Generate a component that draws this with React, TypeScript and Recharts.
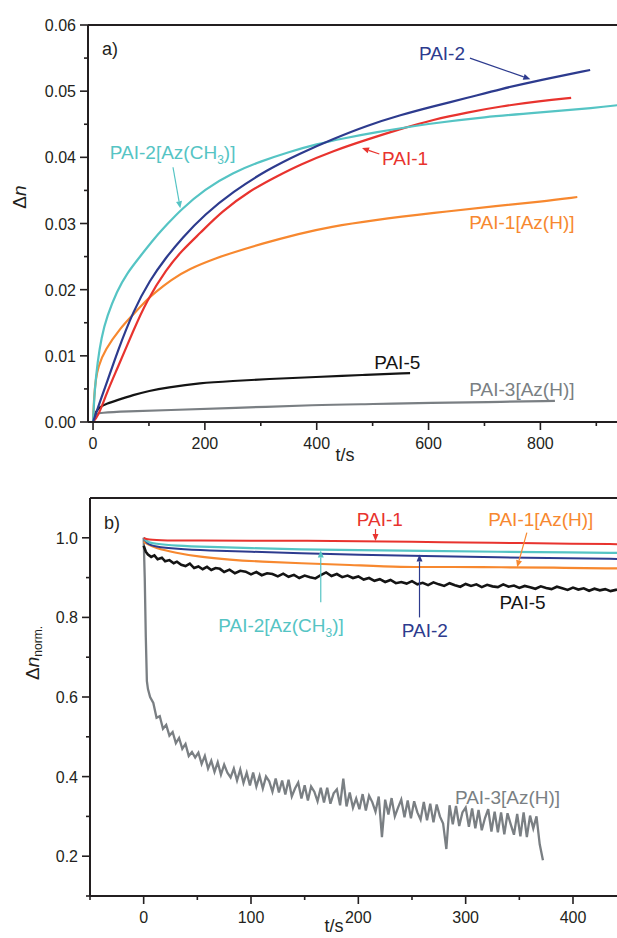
import React from 'react';
import { LineChart, Line, XAxis, YAxis, ReferenceLine, ReferenceDot } from 'recharts';

const FONT = '"Liberation Sans", Arial, Helvetica, sans-serif';
const INK = '#231f20';
const COL = {
  red: '#e8332e',
  blue: '#2d3b8e',
  cyan: '#55c4c4',
  orange: '#f7882f',
  black: '#141414',
  gray: '#7a7f83',
};

// ---- panel a: Δn vs t/s (inscription) ----
const A_CYAN_T = [0, 3, 8, 15, 25, 43, 60, 84, 111, 134, 156, 200, 250, 300, 350, 400, 450, 500, 600, 700, 800, 900, 940];
const A_CYAN_V = [0, 0.005, 0.009, 0.0128, 0.016, 0.0198, 0.0224, 0.025, 0.0279, 0.03, 0.032, 0.0352, 0.0377, 0.0394, 0.0408, 0.042, 0.0429, 0.0437, 0.0451, 0.0461, 0.0468, 0.0475, 0.0479];
const A_BLUE_T = [0, 5, 12, 25, 43, 72, 102, 130, 159, 200, 250, 311, 370, 430, 490, 550, 608, 670, 728, 800, 889];
const A_BLUE_V = [0, 0.0012, 0.003, 0.006, 0.0105, 0.0168, 0.0215, 0.0248, 0.0278, 0.0314, 0.0348, 0.0381, 0.0406, 0.0428, 0.0448, 0.0464, 0.0477, 0.049, 0.0503, 0.0517, 0.0532];
const A_RED_T = [0, 5, 12, 25, 43, 72, 95, 132, 160, 191, 230, 281, 330, 370, 430, 490, 550, 608, 670, 728, 800, 855];
const A_RED_V = [0, 0.0005, 0.0015, 0.0045, 0.008, 0.0138, 0.0182, 0.0232, 0.026, 0.0285, 0.0318, 0.035, 0.0372, 0.0389, 0.041, 0.0427, 0.0443, 0.0457, 0.0468, 0.0477, 0.0485, 0.049];
const A_ORANGE_T = [0, 2, 5, 9, 21, 50, 68, 95, 111, 140, 170, 224, 250, 300, 370, 424, 500, 608, 728, 800, 866];
const A_ORANGE_V = [0, 0.004, 0.0065, 0.0083, 0.0109, 0.0143, 0.0159, 0.0184, 0.0196, 0.0215, 0.0231, 0.0249, 0.0256, 0.0269, 0.0285, 0.0295, 0.0305, 0.0316, 0.0327, 0.0333, 0.034];
const A_BLACK_T = [0, 2, 5, 12, 25, 43, 72, 100, 132, 191, 250, 311, 400, 480, 567];
const A_BLACK_V = [0, 0.001, 0.0015, 0.0023, 0.0028, 0.0033, 0.0041, 0.0047, 0.0052, 0.0059, 0.0062, 0.0065, 0.0068, 0.0071, 0.0074];
const A_GRAY_T = [0, 2, 5, 12, 60, 132, 250, 400, 500, 608, 700, 826];
const A_GRAY_V = [0, 0.0008, 0.0012, 0.0014, 0.0016, 0.0018, 0.0021, 0.0026, 0.0027, 0.0029, 0.003, 0.0032];

// ---- panel b: Δn_norm. vs t/s (stability) ----
const B_RED_T = [0, 3, 20, 50, 100, 150, 200, 250, 300, 350, 400, 441];
const B_RED_V = [1.0, 0.995, 0.993, 0.994, 0.992, 0.993, 0.991, 0.99, 0.988, 0.987, 0.985, 0.984];
const B_CYAN_T = [0, 3, 10, 30, 60, 100, 145, 200, 260, 330, 400, 441];
const B_CYAN_V = [1.0, 0.99, 0.985, 0.98, 0.977, 0.974, 0.971, 0.969, 0.967, 0.965, 0.963, 0.962];
const B_BLUE_T = [0, 3, 10, 30, 60, 100, 145, 200, 260, 330, 400, 441];
const B_BLUE_V = [1.0, 0.985, 0.978, 0.972, 0.968, 0.965, 0.961, 0.957, 0.954, 0.951, 0.948, 0.947];
const B_ORANGE_T = [0, 3, 10, 30, 52, 80, 110, 145, 192, 239, 290, 332, 380, 441];
const B_ORANGE_V = [0.99, 0.985, 0.975, 0.962, 0.952, 0.945, 0.94, 0.936, 0.932, 0.926, 0.927, 0.926, 0.925, 0.923];
const B_BLACK_T = [0, 2, 4, 7, 10, 13, 17, 20, 24, 28, 31, 35, 39, 43, 47, 51, 55, 59, 63, 67, 71, 75, 80, 85, 90, 95, 100, 105, 110, 115, 120, 125, 130, 135, 140, 145, 150, 155, 160, 165, 170, 175, 180, 185, 190, 195, 200, 205, 210, 215, 220, 225, 230, 235, 240, 245, 250, 255, 260, 265, 270, 275, 280, 285, 290, 295, 300, 305, 310, 315, 320, 325, 330, 335, 340, 345, 350, 355, 360, 365, 370, 375, 380, 385, 390, 395, 400, 405, 410, 415, 420, 425, 430, 435, 441];
const B_BLACK_V = [0.98, 0.965, 0.958, 0.952, 0.956, 0.946, 0.95, 0.941, 0.944, 0.936, 0.94, 0.932, 0.929, 0.935, 0.924, 0.928, 0.921, 0.927, 0.919, 0.924, 0.922, 0.914, 0.92, 0.911, 0.917, 0.915, 0.908, 0.914, 0.906, 0.911, 0.909, 0.903, 0.91, 0.902, 0.907, 0.899, 0.905, 0.901, 0.898, 0.906, 0.913, 0.904, 0.909, 0.901, 0.905, 0.899, 0.903, 0.895, 0.899, 0.892, 0.896, 0.889, 0.894, 0.886, 0.889, 0.885, 0.891, 0.883, 0.887, 0.881, 0.888, 0.883, 0.879, 0.886, 0.881, 0.877, 0.884, 0.879, 0.883, 0.876, 0.882, 0.878, 0.876, 0.883, 0.877, 0.88, 0.874, 0.879, 0.876, 0.872, 0.878, 0.874, 0.871, 0.877, 0.873, 0.869, 0.875, 0.87, 0.873, 0.867, 0.872, 0.868, 0.871, 0.866, 0.87];
const B_GRAY_T = [0, 1, 2, 3, 4, 6, 9, 12, 15, 18, 21, 24, 27, 30, 33, 36, 39, 42, 45, 48, 51, 54, 57, 60, 63, 66, 69, 72, 75, 78, 81, 84, 87, 90, 93, 96, 99, 102, 105, 108, 111, 114, 117, 120, 123, 126, 129, 132, 135, 138, 141, 144, 147, 150, 153, 156, 159, 162, 165, 168, 171, 174, 177, 180, 183, 186, 189, 192, 195, 198, 201, 204, 207, 210, 213, 216, 219, 222, 225, 228, 231, 234, 237, 240, 243, 246, 249, 252, 255, 258, 261, 264, 267, 270, 273, 276, 279, 282, 285, 288, 291, 294, 297, 300, 303, 306, 309, 312, 315, 318, 321, 324, 327, 330, 333, 336, 339, 342, 345, 348, 351, 354, 357, 360, 363, 366, 369, 372, 374];
const B_GRAY_V = [1.0, 0.9, 0.75, 0.64, 0.62, 0.6, 0.585, 0.548, 0.552, 0.52, 0.53, 0.503, 0.512, 0.484, 0.497, 0.47, 0.482, 0.452, 0.462, 0.448, 0.46, 0.432, 0.452, 0.42, 0.44, 0.412, 0.436, 0.405, 0.43, 0.41, 0.398, 0.42, 0.39, 0.418, 0.384, 0.41, 0.378, 0.41, 0.375, 0.402, 0.37, 0.4, 0.388, 0.362, 0.395, 0.36, 0.39, 0.355, 0.392, 0.35, 0.37, 0.385, 0.345, 0.378, 0.34, 0.375, 0.362, 0.338, 0.372, 0.335, 0.372, 0.332, 0.358, 0.368, 0.328, 0.395, 0.325, 0.36, 0.322, 0.345, 0.318, 0.356, 0.315, 0.352, 0.336, 0.312, 0.35, 0.248, 0.342, 0.305, 0.346, 0.3, 0.322, 0.342, 0.298, 0.34, 0.295, 0.338, 0.31, 0.292, 0.336, 0.29, 0.332, 0.285, 0.33, 0.3, 0.282, 0.218, 0.328, 0.28, 0.326, 0.276, 0.31, 0.322, 0.274, 0.32, 0.27, 0.316, 0.265, 0.296, 0.318, 0.262, 0.312, 0.26, 0.31, 0.255, 0.308, 0.28, 0.254, 0.306, 0.25, 0.31, 0.248, 0.302, 0.27, 0.3, 0.23, 0.19];

// ---- axis ticks ----
const A_X_TICKS = [0, 100, 200, 300, 400, 500, 600, 700, 800, 900];
const A_X_MAJOR = [0, 200, 400, 600, 800];
const A_Y_TICKS = [0, 0.005, 0.01, 0.015, 0.02, 0.025, 0.03, 0.035, 0.04, 0.045, 0.05, 0.055, 0.06];
const A_Y_MAJOR = [0, 0.01, 0.02, 0.03, 0.04, 0.05, 0.06];
const B_X_TICKS = [-50, 0, 50, 100, 150, 200, 250, 300, 350, 400];
const B_X_MAJOR = [0, 100, 200, 300, 400];
const B_Y_TICKS = [0.1, 0.2, 0.3, 0.4, 0.5, 0.6, 0.7, 0.8, 0.9, 1.0];
const B_Y_MAJOR = [0.2, 0.4, 0.6, 0.8, 1.0];

const rows = (t: number[], v: number[]) => t.map((x, i) => ({ t: x, v: v[i] }));
const isMajor = (list: number[], v: number) => list.some((m) => Math.abs(m - v) < 1e-9);

const xTick = (majors: number[]) => (props: any) => {
  const { x, y, payload } = props;
  const major = isMajor(majors, payload.value);
  return (
    <g>
      <line x1={x} y1={y} x2={x} y2={y + (major ? 8 : 4)} stroke={INK} strokeWidth={1.6} />
      {major && (
        <text x={x} y={y + 27} textAnchor="middle" fontSize={16} fill={INK} fontFamily={FONT}>
          {payload.value}
        </text>
      )}
    </g>
  );
};

const yTick = (majors: number[], digits: number) => (props: any) => {
  const { x, y, payload } = props;
  const major = isMajor(majors, payload.value);
  return (
    <g>
      <line x1={x - (major ? 8 : 4)} y1={y} x2={x} y2={y} stroke={INK} strokeWidth={1.6} />
      {major && (
        <text x={x - 12} y={y + 6} textAnchor="end" fontSize={16} fill={INK} fontFamily={FONT}>
          {payload.value.toFixed(digits)}
        </text>
      )}
    </g>
  );
};

function Arrow(p: any) {
  const { x1, y1, x2, y2, color } = p;
  const dx = x2 - x1;
  const dy = y2 - y1;
  const len = Math.hypot(dx, dy) || 1;
  const ux = dx / len;
  const uy = dy / len;
  const head = 7;
  const w = 3;
  const bx = x2 - ux * head;
  const by = y2 - uy * head;
  return (
    <g>
      <line x1={x1} y1={y1} x2={bx} y2={by} stroke={color} strokeWidth={1.2} />
      <polygon points={`${x2},${y2} ${bx - uy * w},${by + ux * w} ${bx + uy * w},${by - ux * w}`} fill={color} />
    </g>
  );
}

const arrow = (key: string, t1: number, v1: number, t2: number, v2: number, color: string) => (
  <ReferenceLine
    key={key}
    segment={[{ x: t1, y: v1 }, { x: t2, y: v2 }]}
    ifOverflow="visible"
    shape={(p: any) => <Arrow {...p} color={color} />}
  />
);

const anno = (key: string, t: number, v: number, color: string, body: React.ReactNode, anchor = 'middle', size = 19) => (
  <ReferenceDot
    key={key}
    x={t}
    y={v}
    r={0}
    ifOverflow="visible"
    shape={(p: any) => (
      <text x={p.cx} y={p.cy + size * 0.36} textAnchor={anchor} fontSize={size} fill={color} fontFamily={FONT}>
        {body}
      </text>
    )}
  />
);

const ch3 = (head: string) => (
  <>
    {head}
    <tspan fontSize={12} dy={5}>3</tspan>
    <tspan dy={-5}>)]</tspan>
  </>
);

const XTitle = ({ x, y }: { x: number; y: number }) => () => (
  <text x={x} y={y} textAnchor="middle" fontSize={18} fill={INK} fontFamily={FONT}>
    t/s
  </text>
);

const YTitle = ({ x, y, sub }: { x: number; y: number; sub?: string }) => () => (
  <text
    x={x}
    y={y}
    transform={`rotate(-90, ${x}, ${y})`}
    textAnchor="middle"
    dominantBaseline="central"
    fontSize={19}
    fill={INK}
    fontFamily={FONT}
  >
    Δ<tspan fontStyle="italic">n</tspan>
    {sub && (
      <tspan fontSize={12} dy={6}>
        {sub}
      </tspan>
    )}
  </text>
);

const axisLine = { stroke: INK, strokeWidth: 2 };

export default function App() {
  const seriesA = [
    { t: A_GRAY_T, v: A_GRAY_V, c: COL.gray },
    { t: A_BLACK_T, v: A_BLACK_V, c: COL.black },
    { t: A_ORANGE_T, v: A_ORANGE_V, c: COL.orange },
    { t: A_RED_T, v: A_RED_V, c: COL.red },
    { t: A_CYAN_T, v: A_CYAN_V, c: COL.cyan },
    { t: A_BLUE_T, v: A_BLUE_V, c: COL.blue },
  ];
  const seriesB = [
    { t: B_GRAY_T, v: B_GRAY_V, c: COL.gray, w: 2.3, type: 'linear' },
    { t: B_BLACK_T, v: B_BLACK_V, c: COL.black, w: 2.6, type: 'linear' },
    { t: B_ORANGE_T, v: B_ORANGE_V, c: COL.orange, w: 2.2, type: 'basis' },
    { t: B_BLUE_T, v: B_BLUE_V, c: COL.blue, w: 2, type: 'basis' },
    { t: B_CYAN_T, v: B_CYAN_V, c: COL.cyan, w: 2.2, type: 'basis' },
    { t: B_RED_T, v: B_RED_V, c: COL.red, w: 2, type: 'basis' },
  ];

  return (
    <div style={{ position: 'absolute', left: 0, top: 0, width: 617, height: 938, background: '#fff', fontFamily: FONT, overflow: 'hidden' }}>
      <div style={{ position: 'absolute', left: 0, top: 0 }}>
        <LineChart width={617} height={470} margin={{ top: 25, right: 0, left: 0, bottom: 8 }}>
          <XAxis
            dataKey="t"
            type="number"
            domain={[-9, 937]}
            allowDataOverflow
            ticks={A_X_TICKS}
            interval={0}
            tickSize={0}
            tickMargin={0}
            tickLine={false}
            axisLine={axisLine}
            tick={xTick(A_X_MAJOR)}
            height={40}
            label={XTitle({ x: 345, y: 461 })}
          />
          <YAxis
            dataKey="v"
            type="number"
            domain={[0, 0.06]}
            allowDataOverflow
            ticks={A_Y_TICKS}
            interval={0}
            tickSize={0}
            tickMargin={0}
            tickLine={false}
            axisLine={axisLine}
            tick={yTick(A_Y_MAJOR, 2)}
            width={88}
            label={YTitle({ x: 19, y: 197 })}
          />
          <ReferenceLine y={0.06} stroke={INK} strokeWidth={2} />
          {seriesA.map((s, i) => (
            <Line
              key={i}
              data={rows(s.t, s.v)}
              dataKey="v"
              type="basis"
              stroke={s.c}
              strokeWidth={2.2}
              dot={false}
              isAnimationActive={false}
            />
          ))}
          {anno('a', 16, 0.0565, INK, 'a)', 'start', 18)}
          {anno('pai2', 624, 0.0557, COL.blue, 'PAI-2')}
          {arrow('pai2a', 674, 0.055, 782, 0.0518, COL.blue)}
          {anno('pai1', 558, 0.0399, COL.red, 'PAI-1')}
          {arrow('pai1a', 512, 0.0405, 481, 0.0414, COL.red)}
          {anno('pai2ch3', 30, 0.0408, COL.cyan, ch3('PAI-2[Az(CH'), 'start')}
          {arrow('pai2ch3a', 143, 0.0385, 156, 0.0323, COL.cyan)}
          {anno('pai1h', 767, 0.0302, COL.orange, 'PAI-1[Az(H)]')}
          {anno('pai5', 544, 0.0091, COL.black, 'PAI-5')}
          {anno('pai3', 767, 0.005, COL.gray, 'PAI-3[Az(H)]')}
        </LineChart>
      </div>
      <div style={{ position: 'absolute', left: 0, top: 470 }}>
        <LineChart width={617} height={468} margin={{ top: 28, right: 0, left: 0, bottom: 8 }}>
          <XAxis
            dataKey="t"
            type="number"
            domain={[-50, 441]}
            allowDataOverflow
            ticks={B_X_TICKS}
            interval={0}
            tickSize={0}
            tickMargin={0}
            tickLine={false}
            axisLine={axisLine}
            tick={xTick(B_X_MAJOR)}
            height={34}
            label={XTitle({ x: 334, y: 462 })}
          />
          <YAxis
            dataKey="v"
            type="number"
            domain={[0.1, 1.1]}
            allowDataOverflow
            ticks={B_Y_TICKS}
            interval={0}
            tickSize={0}
            tickMargin={0}
            tickLine={false}
            axisLine={axisLine}
            tick={yTick(B_Y_MAJOR, 1)}
            width={90}
            label={YTitle({ x: 32, y: 183, sub: 'norm.' })}
          />
          <ReferenceLine y={1.1} stroke={INK} strokeWidth={2} />
          {seriesB.map((s, i) => (
            <Line
              key={i}
              data={rows(s.t, s.v)}
              dataKey="v"
              type={s.type as any}
              stroke={s.c}
              strokeWidth={s.w}
              dot={false}
              isAnimationActive={false}
            />
          ))}
          {anno('b', -37, 1.038, INK, 'b)', 'start', 18)}
          {anno('pai1', 220, 1.046, COL.red, 'PAI-1')}
          {arrow('pai1a', 216, 1.022, 216, 0.992, COL.red)}
          {anno('pai1h', 370, 1.046, COL.orange, 'PAI-1[Az(H)]')}
          {arrow('pai1ha', 357, 1.013, 348, 0.926, COL.orange)}
          {anno('pai2ch3', 128, 0.78, COL.cyan, ch3('PAI-2[Az(CH'))}
          {arrow('pai2ch3a', 165, 0.838, 165, 0.968, COL.cyan)}
          {anno('pai2', 262, 0.767, COL.blue, 'PAI-2')}
          {arrow('pai2a', 257, 0.8, 257, 0.958, COL.blue)}
          {anno('pai5', 353, 0.838, COL.black, 'PAI-5')}
          {anno('pai3', 339, 0.349, COL.gray, 'PAI-3[Az(H)]')}
        </LineChart>
      </div>
    </div>
  );
}
